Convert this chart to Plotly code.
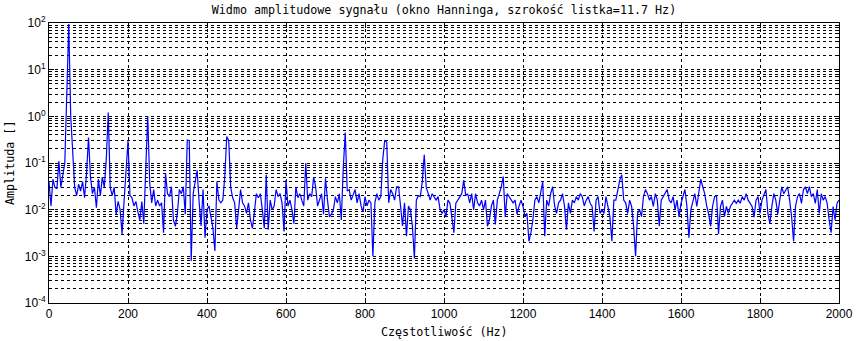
import plotly.graph_objects as go

# Frequency grid (Hz), 5 Hz spacing
freq_step = 5
freq = [i * freq_step for i in range(401)]

# Amplitudes, 0..495 Hz
amp_0_500 = [
    0.04, 0.012, 0.045, 0.03, 0.028, 0.11, 0.03, 0.06, 0.1, 3.0,
    95, 1.0, 0.2, 0.03, 0.02, 0.035, 0.025, 0.04, 0.018, 0.06,
    0.35, 0.05, 0.022, 0.03, 0.011, 0.045, 0.02, 0.05, 0.03, 0.12,
    1.2, 0.03, 0.02, 0.03, 0.008, 0.015, 0.01, 0.003, 0.015, 0.08,
    0.3, 0.02, 0.018, 0.012, 0.015, 0.009, 0.006, 0.015, 0.005, 0.08,
    1.0, 0.037, 0.014, 0.027, 0.012, 0.016, 0.012, 0.014, 0.0032, 0.06,
    0.022, 0.019, 0.031, 0.006, 0.0044, 0.0083, 0.027, 0.022, 0.031, 0.008,
    0.31, 0.3, 0.0008, 0.022, 0.043, 0.07, 0.015, 0.0045, 0.027, 0.0025,
    0.01, 0.012, 0.007, 0.004, 0.0013, 0.04, 0.016, 0.014, 0.016, 0.05,
    0.37, 0.3, 0.03, 0.018, 0.014, 0.004, 0.01, 0.027, 0.014, 0.012,
]
# 500..995 Hz
amp_500_1000 = [
    0.0083, 0.014, 0.006, 0.004, 0.009, 0.022, 0.018, 0.022, 0.01, 0.004,
    0.056, 0.0037, 0.016, 0.01, 0.012, 0.027, 0.019, 0.022, 0.014, 0.0034,
    0.043, 0.012, 0.016, 0.01, 0.005, 0.031, 0.018, 0.022, 0.016, 0.012,
    0.1, 0.016, 0.022, 0.019, 0.05, 0.031, 0.012, 0.016, 0.022, 0.008,
    0.047, 0.016, 0.007, 0.008, 0.01, 0.019, 0.014, 0.022, 0.006, 0.08,
    0.45, 0.025, 0.027, 0.016, 0.022, 0.027, 0.014, 0.022, 0.012, 0.009,
    0.019, 0.012, 0.016, 0.014, 0.001, 0.014, 0.022, 0.016, 0.019, 0.12,
    0.31, 0.28, 0.014, 0.027, 0.022, 0.016, 0.031, 0.031, 0.012, 0.0045,
    0.014, 0.0027, 0.012, 0.01, 0.0044, 0.0009, 0.016, 0.02, 0.019, 0.04,
    0.15, 0.03, 0.022, 0.016, 0.022, 0.019, 0.016, 0.019, 0.01, 0.0083,
]
# 1000..1495 Hz
amp_1000_1500 = [
    0.01, 0.0071, 0.016, 0.0137, 0.0071, 0.0032, 0.0137, 0.016, 0.019, 0.022,
    0.043, 0.02, 0.022, 0.014, 0.022, 0.01, 0.022, 0.014, 0.012, 0.016,
    0.01, 0.016, 0.0044, 0.006, 0.012, 0.016, 0.0048, 0.016, 0.022, 0.031,
    0.051, 0.007, 0.022, 0.019, 0.016, 0.014, 0.016, 0.008, 0.012, 0.016,
    0.0117, 0.0071, 0.0083, 0.0021, 0.0032, 0.006, 0.016, 0.019, 0.014, 0.022,
    0.04, 0.0027, 0.016, 0.012, 0.022, 0.031, 0.012, 0.0083, 0.014, 0.016,
    0.022, 0.012, 0.0037, 0.014, 0.0083, 0.016, 0.014, 0.019, 0.016, 0.022,
    0.019, 0.012, 0.016, 0.019, 0.0137, 0.0117, 0.0034, 0.016, 0.019, 0.0083,
    0.01, 0.0083, 0.019, 0.0117, 0.0071, 0.0021, 0.016, 0.016, 0.027, 0.043,
    0.056, 0.016, 0.014, 0.0083, 0.016, 0.0117, 0.0044, 0.001, 0.0083, 0.01,
]
# 1500..2000 Hz
amp_1500_2000 = [
    0.0071, 0.019, 0.027, 0.022, 0.016, 0.019, 0.0117, 0.022, 0.016, 0.0044,
    0.016, 0.019, 0.022, 0.027, 0.016, 0.014, 0.019, 0.01, 0.016, 0.007,
    0.0137, 0.019, 0.027, 0.0117, 0.0025, 0.01, 0.016, 0.022, 0.0117, 0.022,
    0.045, 0.031, 0.022, 0.012, 0.008, 0.0044, 0.012, 0.019, 0.02, 0.003,
    0.0117, 0.016, 0.0071, 0.0117, 0.0083, 0.0117, 0.0137, 0.016, 0.0137, 0.016,
    0.0137, 0.019, 0.016, 0.022, 0.016, 0.0137, 0.0117, 0.0069, 0.016, 0.019,
    0.0083, 0.016, 0.022, 0.027, 0.0083, 0.005, 0.0117, 0.022, 0.016, 0.008,
    0.016, 0.031, 0.022, 0.027, 0.031, 0.016, 0.0071, 0.0021, 0.012, 0.019,
    0.022, 0.0137, 0.027, 0.031, 0.022, 0.031, 0.019, 0.022, 0.0137, 0.027,
    0.0083, 0.022, 0.016, 0.019, 0.0137, 0.006, 0.0032, 0.0117, 0.006, 0.0137,
    0.016,
]
amplitude = amp_0_500 + amp_500_1000 + amp_1000_1500 + amp_1500_2000

x_ticks = [0, 200, 400, 600, 800, 1000, 1200, 1400, 1600, 1800, 2000]
y_ticks = [1e-4, 1e-3, 1e-2, 1e-1, 1e0, 1e1, 1e2]
y_ticktext = ["10<sup>-4</sup>", "10<sup>-3</sup>", "10<sup>-2</sup>",
              "10<sup>-1</sup>", "10<sup>0</sup>", "10<sup>1</sup>", "10<sup>2</sup>"]

title_text = "Widmo amplitudowe sygnału (okno Hanninga, szrokość listka=11.7 Hz)"
x_label = "Częstotliwość (Hz)"
y_label = "Amplituda []"

fig = go.Figure()
fig.add_trace(go.Scatter(x=freq, y=amplitude, mode="lines",
                         line=dict(color="#0000ff", width=1.2), hoverinfo="skip"))

mono = "DejaVu Sans Mono"
sans = "Liberation Sans"
grid_dash = "3px,3px"

fig.update_layout(
    width=860, height=341,
    margin=dict(l=49, r=21, t=23, b=38, autoexpand=False),
    paper_bgcolor="white", plot_bgcolor="white",
    showlegend=False,
    font=dict(family=sans, size=12, color="black"),
    title=dict(text=title_text, x=0.5, xref="paper", xanchor="center",
               y=1 - 10 / 341, yref="container", yanchor="middle",
               font=dict(family=mono, size=11.7, color="black")),
    annotations=[
        dict(text=x_label, x=0.5, y=0, xref="paper", yref="paper",
             xanchor="center", yanchor="middle", yshift=-29, showarrow=False,
             font=dict(family=mono, size=11.7, color="black")),
        dict(text=y_label, x=0, y=0.5, xref="paper", yref="paper",
             xanchor="center", yanchor="middle", xshift=-39, textangle=-90,
             showarrow=False, font=dict(family=mono, size=11.7, color="black")),
    ],
)

fig.update_xaxes(
    range=[0, 2000], tickvals=x_ticks, ticks="inside", ticklen=5,
    tickcolor="black", showline=True, linecolor="black", linewidth=1,
    mirror="ticks", showgrid=True, gridcolor="black", gridwidth=1,
    griddash=grid_dash, zeroline=False, automargin=False,
    tickfont=dict(family=sans, size=12, color="black"),
)
fig.update_yaxes(
    type="log", range=[-4, 2], tickvals=y_ticks, ticktext=y_ticktext,
    ticks="inside", ticklen=5, tickcolor="black", showline=True,
    linecolor="black", linewidth=1, mirror="ticks", showgrid=True,
    gridcolor="black", gridwidth=1, griddash=grid_dash, zeroline=False,
    automargin=False,
    tickfont=dict(family=sans, size=12, color="black"),
    minor=dict(dtick="D1", showgrid=True, gridcolor="black", gridwidth=1,
               griddash=grid_dash, ticks="inside", ticklen=3, tickcolor="black"),
)

fig.write_html("out.html",
               config={"displayModeBar": False, "staticPlot": True},
               post_script="document.body.style.margin='0';document.body.style.overflow='hidden';")
